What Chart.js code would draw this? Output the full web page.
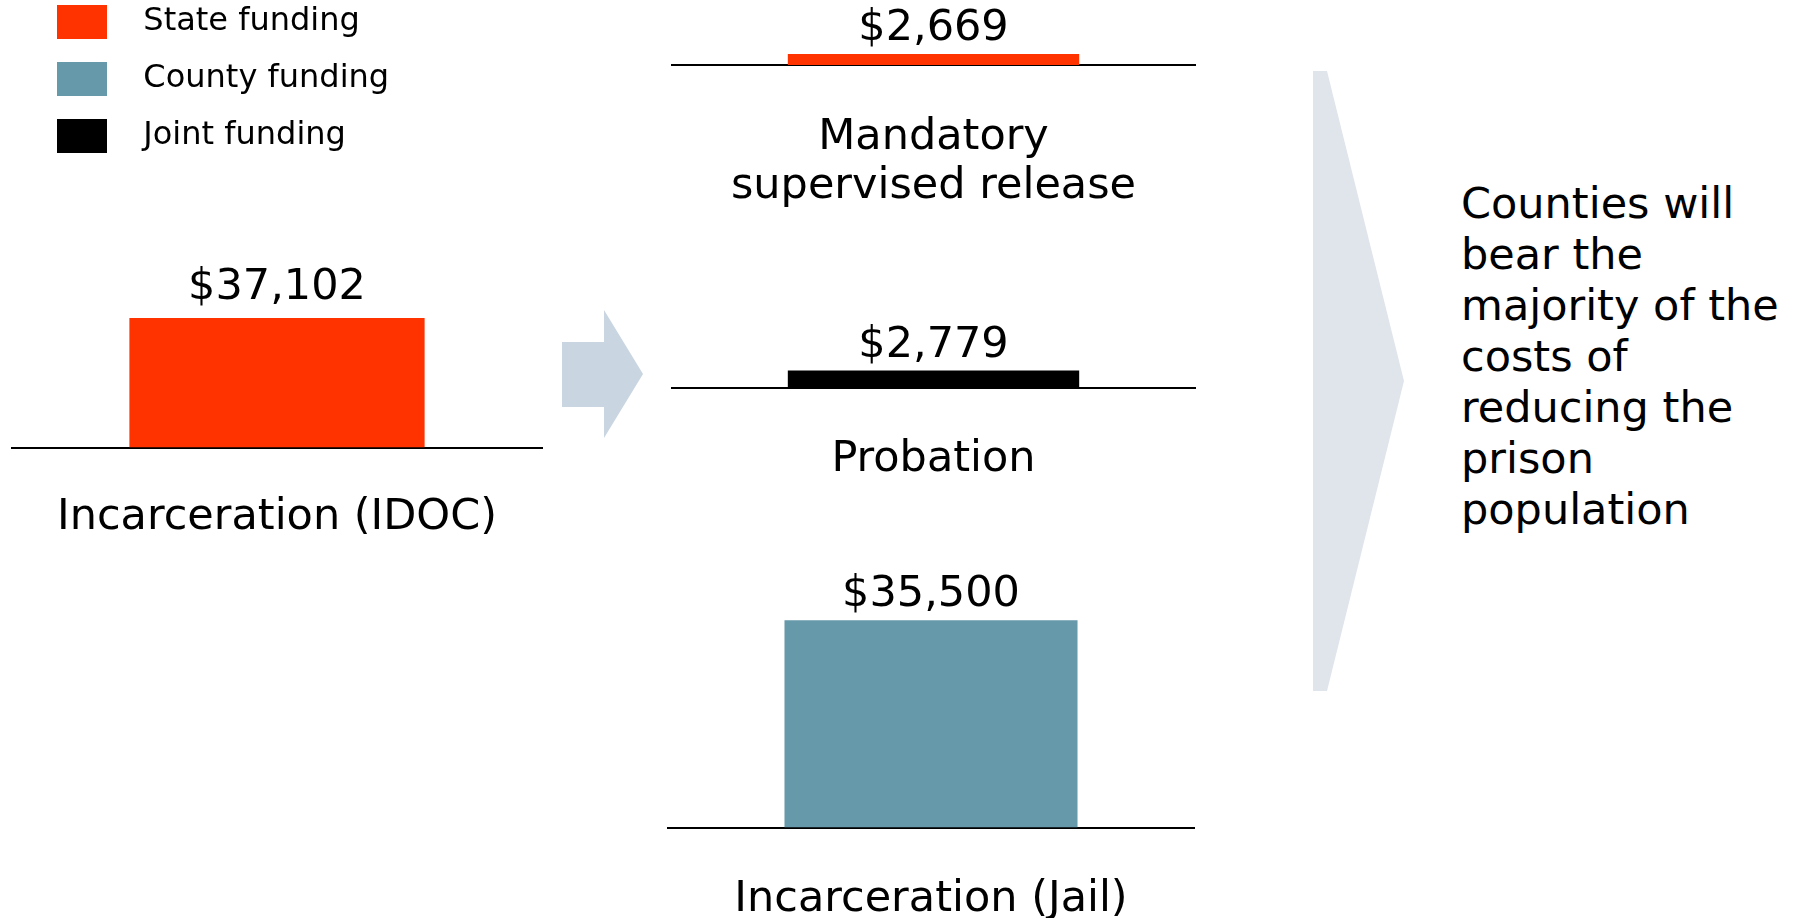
<!DOCTYPE html>
<html>
<head>
<meta charset="utf-8">
<script src="https://cdn.jsdelivr.net/npm/chart.js@4.4.1/dist/chart.umd.min.js"></script>
<style>
    html, body { margin: 0; padding: 0; background: #fff; overflow: hidden; }
    body { width: 1798px; height: 918px; position: relative; }
    canvas, svg { position: absolute; }
    #legendChart { left: 34px; top: -18px; }
    #idocChart { left: 11px; top: 240px; }
    #msrChart { left: 671px; top: -141px; }
    #probationChart { left: 671px; top: 235px; }
    #jailChart { left: 667px; top: 560px; }
    #callout {
        position: absolute; left: 1461px; top: 178px;
        font-family: 'DejaVu Sans'; font-size: 43px; line-height: 51px; color: #000;
        white-space: pre-line;
    }
</style>
</head>
<body>
<svg width="1798" height="918" style="left:0;top:0">
    <polygon points="562,342 604,342 604,310 643,374 604,438 604,407 562,407" fill="#c9d5e0"/>
    <polygon points="1313,71 1327,71 1404,381 1327,691 1313,691" fill="#e0e5ec"/>
</svg>
<canvas id="legendChart" width="440" height="400"></canvas>
<canvas id="idocChart" width="532" height="349"></canvas>
<canvas id="msrChart" width="525" height="401"></canvas>
<canvas id="probationChart" width="525" height="298"></canvas>
<canvas id="jailChart" width="528" height="413"></canvas>
<div id="callout"></div>

<script>
const panelLabels = ['Incarceration (IDOC)', ['Mandatory', 'supervised release'], 'Probation', 'Incarceration (Jail)'];
const costPerPerson = [37102, 2669, 2779, 35500];
const panelFunding = ['State funding', 'State funding', 'Joint funding', 'County funding'];
const fundingLabels = ['State funding', 'County funding', 'Joint funding'];
const calloutLines = ['Counties will', 'bear the', 'majority of the', 'costs of', 'reducing the', 'prison', 'population'];

const fundingColors = {
    'State funding': '#ff3300',
    'County funding': '#6699aa',
    'Joint funding': '#000000'
};

// dollar value written above each bar
const valueLabels = {
    id: 'valueLabels',
    afterDatasetsDraw(chart, args, opts) {
        const ctx = chart.ctx;
        chart.data.datasets.forEach((ds, i) => {
            chart.getDatasetMeta(i).data.forEach((bar, j) => {
                ctx.save();
                ctx.font = '43px "DejaVu Sans"';
                ctx.fillStyle = '#000';
                ctx.textAlign = 'center';
                ctx.textBaseline = 'alphabetic';
                ctx.fillText('$' + ds.data[j].toLocaleString('en-US'), bar.x, bar.y - opts.offset);
                ctx.restore();
            });
        });
    }
};

const drawPanel = (id, i, yMax, topPad, tickPad, labelOffset) => {
    new Chart(document.getElementById(id), {
        type: 'bar',
        data: {
            labels: [panelLabels[i]],
            datasets: [{
                label: panelFunding[i],
                data: [costPerPerson[i]],
                backgroundColor: fundingColors[panelFunding[i]],
                barPercentage: 0.555,
                categoryPercentage: 1,
            }]
        },
        options: {
            responsive: false,
            animation: false,
            devicePixelRatio: 1,
            layout: { padding: { top: topPad } },
            scales: {
                y: { display: false, min: 0, max: yMax },
                x: {
                    grid: { display: false, drawTicks: false },
                    border: { color: '#000', width: 2 },
                    ticks: {
                        color: '#000',
                        padding: tickPad,
                        maxRotation: 0,
                        autoSkip: false,
                        font: { family: 'DejaVu Sans', size: 43, lineHeight: 1.15 }
                    }
                }
            },
            plugins: {
                legend: { display: false },
                tooltip: { enabled: false },
                valueLabels: { offset: labelOffset }
            }
        },
        plugins: [valueLabels]
    });
}

const drawLegend = () => {
    new Chart(document.getElementById('legendChart'), {
        type: 'bar',
        data: {
            labels: [],
            datasets: fundingLabels.map(name => ({
                label: '  ' + name,
                data: [],
                backgroundColor: fundingColors[name],
            }))
        },
        options: {
            responsive: false,
            animation: false,
            devicePixelRatio: 1,
            scales: { x: { display: false }, y: { display: false } },
            plugins: {
                tooltip: { enabled: false },
                legend: {
                    position: 'top',
                    align: 'start',
                    labels: {
                        boxWidth: 50,
                        boxHeight: 34,
                        padding: 23,
                        color: '#000',
                        font: { family: 'DejaVu Sans', size: 32 }
                    }
                }
            }
        }
    });
}

document.addEventListener('DOMContentLoaded', () => {
    drawLegend();
    drawPanel('idocChart', 0, 50000, 33, 46, 19);
    drawPanel('msrChart', 1, 50000, 0, 48, 14);
    drawPanel('probationChart', 2, 25000, 0, 48, 14);
    drawPanel('jailChart', 3, 40000, 34, 48, 14);
    document.getElementById('callout').textContent = calloutLines.join('\n');
});
</script>
</body>
</html>
